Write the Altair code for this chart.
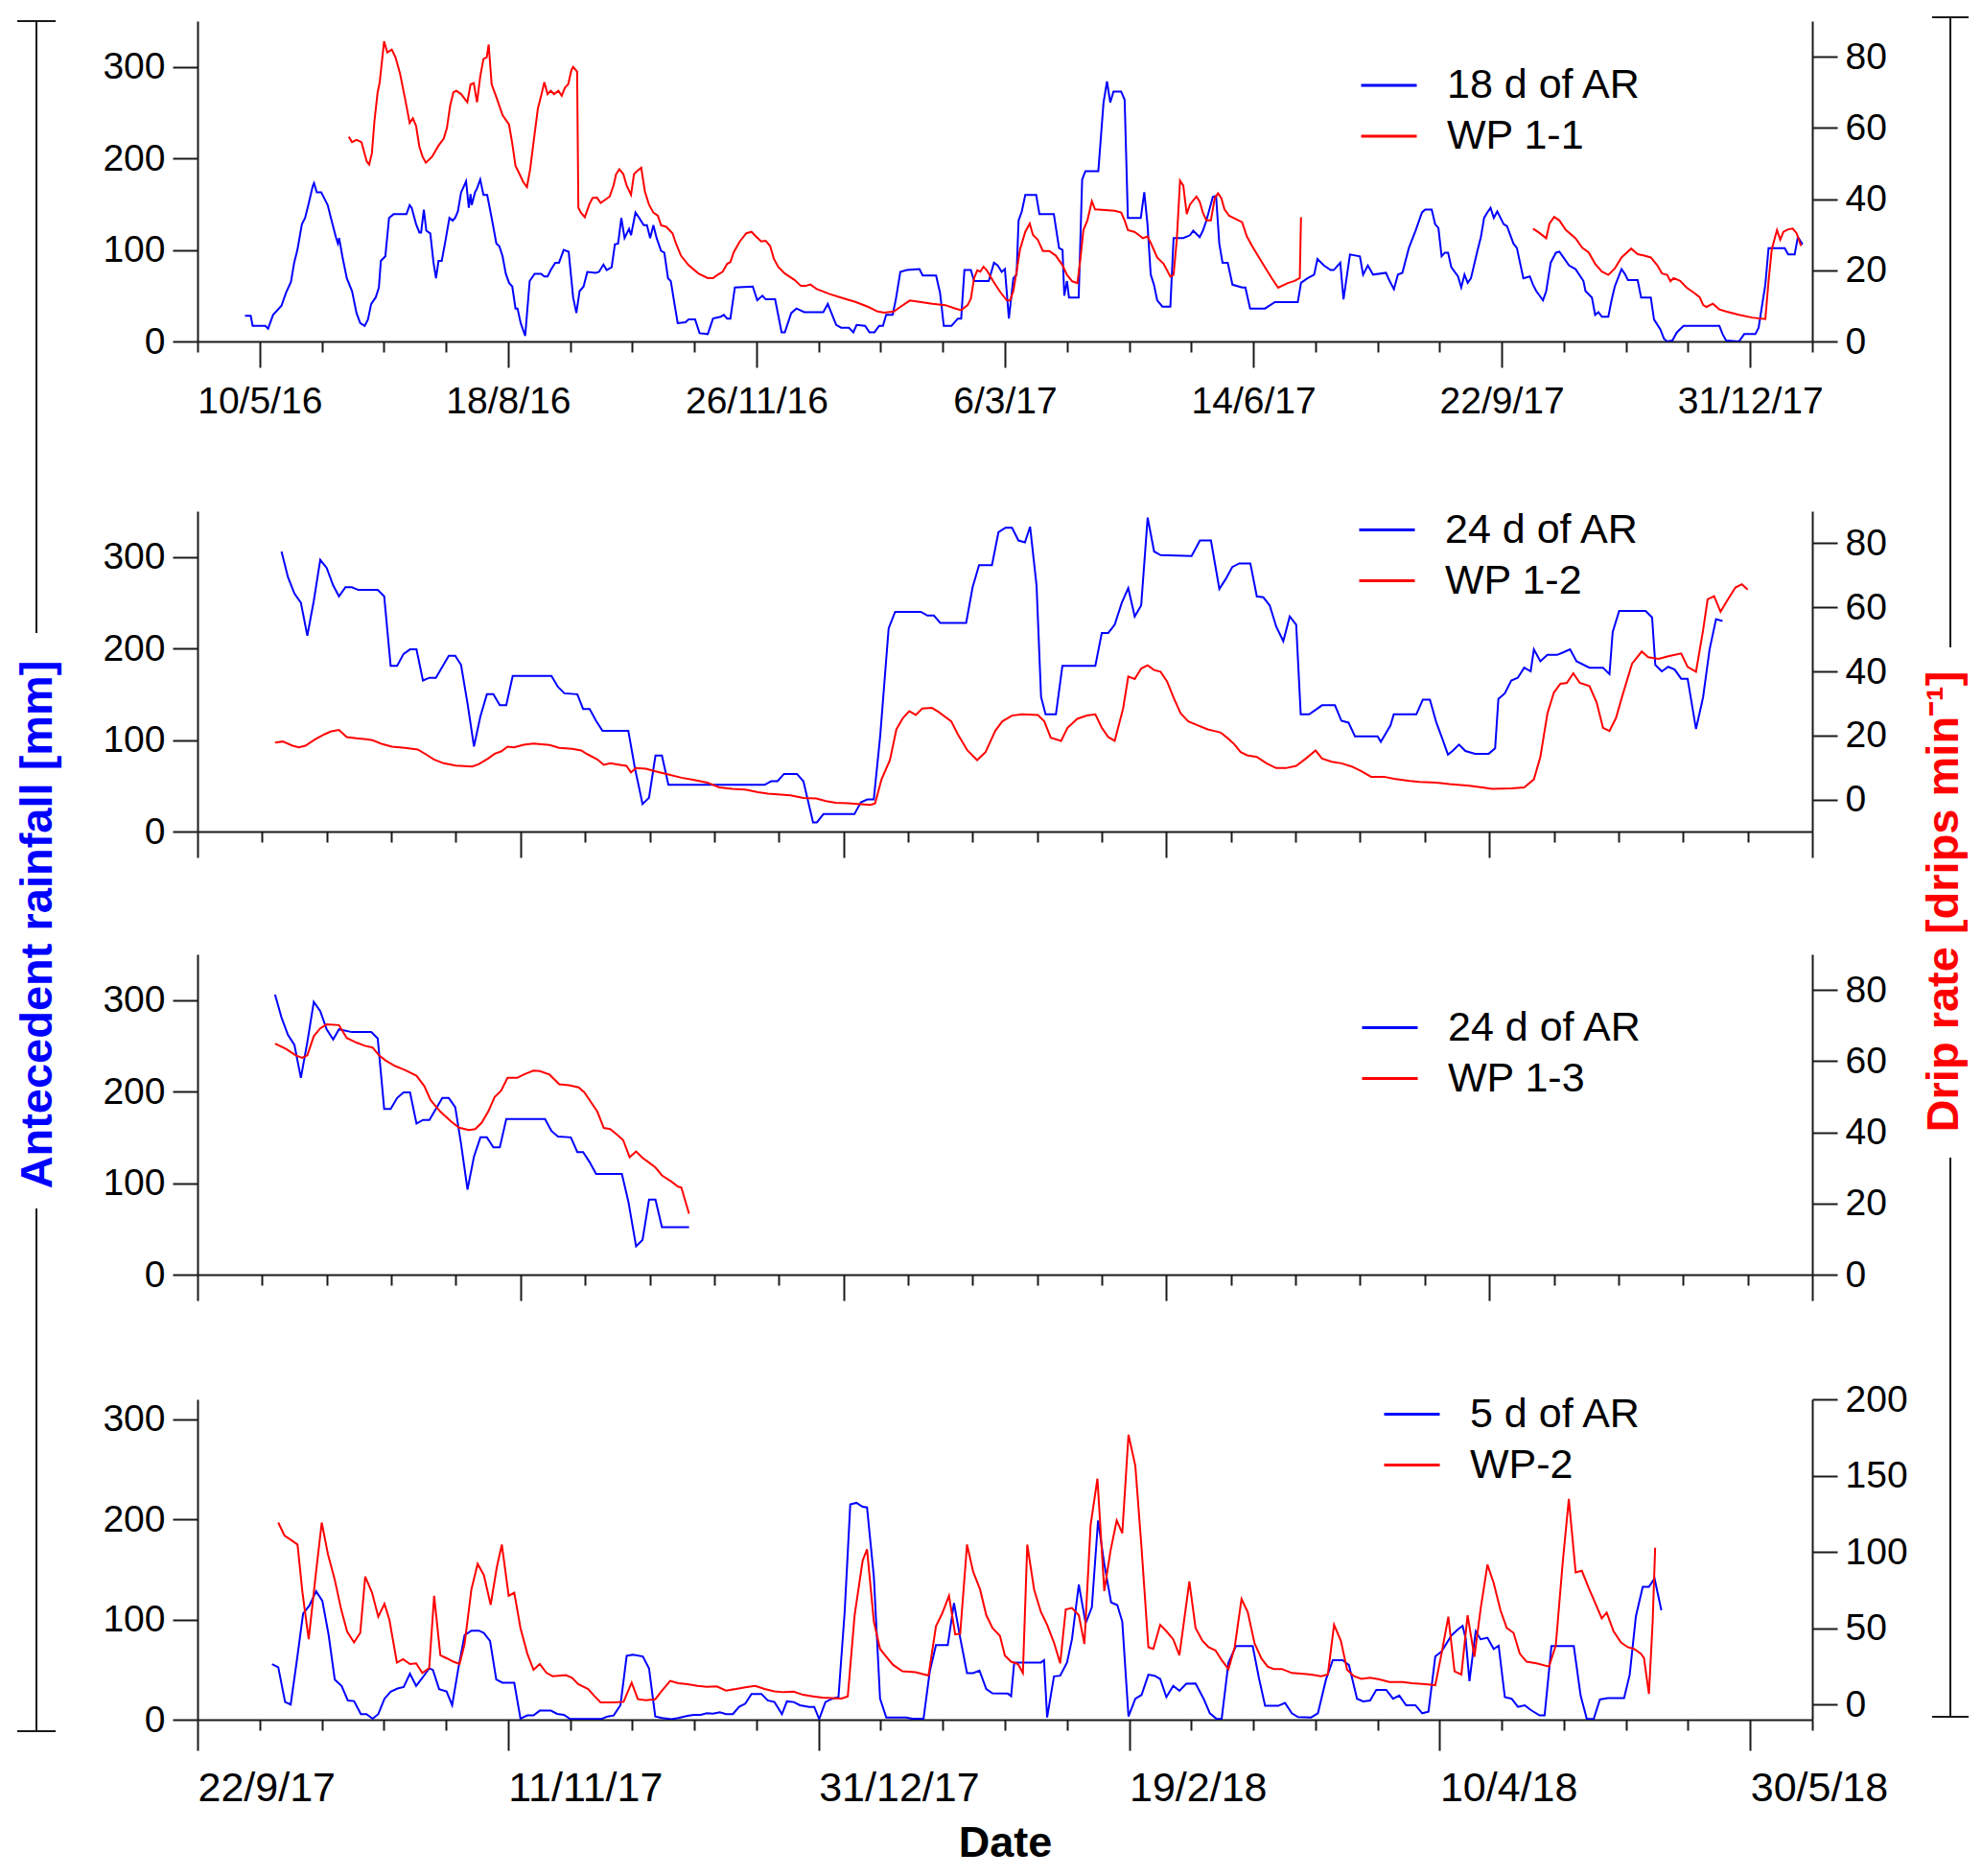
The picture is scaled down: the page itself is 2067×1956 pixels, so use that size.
import altair as alt
import pandas as pd

# ---------------------------------------------------------------- data
# x values are day offsets from a reference date, y values read off the picture
REF_TOP = "2016-05-10"   # top panel
REF_LOW = "2017-09-22"   # three lower panels

AR18 = [(-5.9,28),(-3.6,28),(-2.8,17),(2.3,17),(3.4,14),(5.4,29),(8.8,39),(10.6,53),(12.6,65),(13.9,86),
(15.2,100),(17.0,128),(18.3,135),(19.6,149),(21.4,170),(21.9,173),(23.0,163),(24.8,163),(26.1,156),(27.4,149),
(28.7,135),(30.7,114),(31.5,107),(32.0,113),(33.3,93),(35.1,69),(37.2,55),(39.0,31),(40.5,20),(42.3,17),
(43.6,24),(44.9,41),(46.7,48),(48.0,59),(48.8,88),(50.6,93),(52.1,135),(53.9,139),(59.1,139),(60.4,149),
(61.2,146),(63.0,128),(64.3,119),(65.0,119),(66.1,144),(67.1,121),(68.7,118),(70.0,86),(71.0,69),(72.0,88),
(73.3,88),(74.6,107),(76.4,135),(77.7,132),(78.7,135),(79.8,142),(81.1,163),(81.8,167),(83.1,175),(84.2,146),
(84.9,161),(85.4,149),(86.7,163),(87.5,167),(88.8,177),(90.1,160),(91.6,160),(93.4,135),(95.3,107),(96.5,104),
(97.8,93),(99.1,74),(100.4,64),(101.7,60),(103.0,36),(103.8,36),(105.1,20),(106.9,6),(108.7,66),(110.7,74),
(113.3,74),(114.6,71),(115.9,71),(117.2,78),(119.0,86),(120.5,86),(122.4,100),(124.4,98),(126.2,48),(127.5,31),
(128.8,55),(130.4,60),(131.9,76),(135.3,75),(136.6,76),(138.4,84),(139.7,78),(141.7,81),(143.0,106),(144.3,107),
(145.6,135),(146.9,113),(148.7,123),(149.5,116),(151.3,141),(152.8,135),(154.6,127),(155.9,127),(157.2,113),(158.5,127),
(159.8,113),(161.6,99),(162.9,97),(164.4,69),(165.5,66),(167.0,41),(168.3,20),(171.4,21),(172.7,24),(175.3,24),
(177.1,9),(180.4,8),(182.5,25),(185.6,27),(186.9,29),(188.2,25),(189.5,25),(191.3,59),(198.5,60),(200.3,45),
(202.4,50),(203.7,46),(207.5,46),(210.1,10),(211.4,10),(214.0,31),(216.1,36),(219.2,32),(226.9,32),(228.7,41),
(232.1,18),(234.1,15),(237.2,15),(239.0,10),(240.3,18),(243.7,17),(245.5,10),(247.5,10),(249.4,17),(250.9,17),
(252.2,29),(254.8,29),(256.1,46),(257.9,76),(260.5,78),(265.6,79),(266.9,72),(272.3,72),(273.9,53),(275.4,17),
(278.5,17),(281.1,25),(282.4,25),(283.7,78),(286.3,78),(287.6,66),(293.5,66),(295.6,86),(297.1,83),(298.7,76),
(300.0,79),(301.6,25),(303.4,69),(304.7,73),(305.5,132),(306.8,142),(308.2,160),(312.6,160),(313.9,139),(319.7,139),
(321.8,102),(323.2,100),(323.9,50),(325.0,66),(325.8,48),(329.7,48),(331.1,177),(332.4,186),(337.6,186),(339.7,261),
(341.1,284),(342.4,261),(343.7,273),(346.8,273),(348.2,264),(349.5,135),(354.7,135),(356.1,163),(357.4,128),(358.7,73),
(360.0,62),(361.3,45),(363.4,38),(366.6,38),(367.9,113),(371.8,113),(374.5,116),(375.8,121),(378.4,114),(379.7,121),
(381.1,132),(383.7,158),(385.0,159),(386.3,107),(387.6,86),(389.7,86),(391.6,62),(395.5,59),(396.8,59),(398.7,36),
(404.7,36),(408.7,43),(417.9,43),(419.2,64),(421.8,69),(424.5,73),(425.8,90),(428.4,83),(431.1,78),(432.4,78),
(435.0,86),(436.3,46),(438.9,95),(442.9,93),(444.2,73),(446.1,83),(448.2,73),(453.4,75),(454.7,67),(456.6,57),
(458.2,73),(460.0,75),(462.6,102),(465.3,121),(467.9,141),(469.2,144),(471.8,144),(473.2,128),(474.5,124),(475.8,93),
(477.1,97),(478.4,97),(479.7,81),(482.4,71),(483.7,59),(485.0,73),(486.3,64),(487.6,69),(490.3,100),(491.6,114),
(492.9,135),(494.2,141),(495.5,146),(496.8,135),(498.2,142),(500.8,128),(502.1,126),(504.7,107),(506.1,102),(508.7,69),
(511.3,71),(512.6,62),(513.9,55),(516.6,45),(517.9,55),(519.7,86),(521.8,97),(523.2,98),(527.1,83),(529.7,79),
(532.9,66),(533.7,55),(536.3,48),(537.6,29),(538.9,32),(540.3,27),(542.9,27),(544.2,45),(545.5,60),(548.2,79),
(549.5,74),(550.8,67),(554.7,67),(556.1,48),(560.0,48),(561.3,24),(563.9,13),(565.3,3),(566.6,0),(568.7,1),
(570.5,10),(573.2,17),(587.6,17),(588.9,8),(590.3,1),(595.5,0),(597.6,8),(602.1,8),(603.4,15),(606.1,62),
(607.4,102),(613.9,102),(615.3,95),(617.9,95),(619.2,114),(621.1,106)]

WP11_A = [(35.9,57.5),(37.2,56),(39.0,56.6),(41.0,56),(43.1,50.6),(44.1,49.7),(45.2,52.9),(46.2,61.8),(47.5,70),(48.3,72.6),
(50.1,84.3),(51.4,81.2),(53.2,82),(54.7,79.8),(56.5,75.3),(58.6,68),(60.4,61.4),(61.7,62.7),(63.0,60.5),(64.3,54.7),
(65.6,51.9),(66.9,50.2),(69.4,51.9),(72.0,55),(74.1,57),(75.4,60),(76.7,66.3),(78.0,70),(79.2,70.4),(81.1,69.5),
(83.6,67.2),(84.9,72.2),(86.2,72.6),(87.5,67.2),(88.8,74.4),(90.1,79.4),(91.4,79.8),(92.2,83.4),(93.4,72.2),(95.3,68.6),
(97.8,63.6),(100.4,60.9),(101.7,55.6),(103.0,49.3),(104.3,47.5),(106.1,44.8),(107.6,43.4),(108.9,48.4),(110.2,55.6),(112.0,65.4),
(113.3,69),(114.6,72.8),(115.9,69.5),(117.2,70.4),(118.5,69.5),(120.3,70.4),(121.6,69),(122.9,71.3),(124.2,72.2),(125.5,76.2),
(126.2,77.1),(127.8,75.8),(128.3,37.6),(129.3,36.2),(130.9,34.9),(132.7,38.5),(134.0,40.3),(135.8,40.4),(137.3,38.9),(139.1,39.8),
(140.9,40.7),(142.5,43.9),(143.5,47),(144.8,48.4),(146.4,47),(147.7,43.9),(149.5,41.2),(150.7,47),(152.0,47.9),(153.6,48.8),
(155.1,42.1),(156.7,38.5),(158.5,36.2),(160.3,35.3),(161.6,32.6),(163.7,32.2),(166.2,30.4),(167.5,27.7),(169.6,24.1),(172.7,21.4),
(176.6,19.1),(180.4,17.8),(182.5,17.8),(184.3,18.7),(186.4,19.6),(188.2,21.8),(189.5,22.3),(190.8,25),(193.3,28.1),(195.9,30.4),
(198.0,30.8),(199.8,29.5),(201.9,28.1),(203.7,28.3),(205.5,26.8),(207.0,23.2),(208.8,20.9),(211.4,19.1),(215.3,17.3),(217.9,15.6),
(219.7,15.6),(221.7,16),(224.3,14.7),(229.5,13.3),(234.6,12.2),(239.8,11.1),(245.0,9.7),(248.8,8.4),(251.4,8.1),(255.3,8.4),
(257.9,9.7),(261.7,11.5),(265.6,11.1),(270.8,10.6),(276.0,10.2),(279.8,9.3),(282.4,8.8),(285.0,10.2),(286.3,12),(287.6,17.8),
(288.9,20),(290.1,19.6),(291.4,21),(292.7,20),(295.3,16.9),(298.2,13.8),(300.8,11.5),(302.1,11.5),(303.4,14.2),(304.7,19.6),
(306.1,25.9),(308.2,30.8),(310.0,33.1),(311.3,29.9),(313.2,28.6),(315.3,25.4),(317.9,25.4),(320.5,24.1),(323.2,21.4),(325.0,18.7),
(327.1,16.9),(329.2,16.4),(330.3,22.7),(331.6,31.3),(333.2,34),(335.0,39.4),(336.3,37.1),(344.2,36.7),(346.8,36.2),(348.2,34),
(349.5,31.3),(352.1,30.8),(353.9,29.9),(355.5,29),(357.4,29.5),(358.7,27.7),(361.3,23.6),(363.9,21.8),(366.6,18.2),(367.9,18.7),
(369.2,28.6),(370.5,45.2),(371.8,43.8),(373.2,35.8),(374.5,38.5),(377.1,40.7),(378.4,39.3),(379.7,36.2),(381.1,34),(382.9,34),
(384.5,40.3),(385.8,41.6),(387.1,40.3),(388.4,37.1),(390.3,35.3),(392.9,34.4),(395.5,33.5),(397.4,29.5),(399.5,26.8),(403.4,22.3),
(407.4,17.8),(410.0,15.1),(413.9,16.4),(416.6,17),(418.7,17.8),(419.2,34.9)]

WP11_B = [(512.6,31.7),(515.3,30.4),(517.9,29),(519.2,33.1),(521.1,35),(523.2,34),(525.8,31.3),(529.7,29),(532.4,26.3),(535.0,25),
(537.6,21.8),(540.3,19.6),(542.9,18.7),(545.5,20.5),(548.2,23.6),(552.1,26.1),(554.7,24.5),(557.4,24.1),(560.0,23.6),(562.6,21.4),
(564.5,19.1),(566.6,18.7),(567.9,16.9),(569.2,17.8),(571.8,17),(574.5,15.1),(577.1,13.8),(579.7,12.4),(581.1,10.2),(582.4,9.7),
(585.0,10.6),(587.6,9),(590.3,8.4),(595.5,7.5),(600.8,6.7),(606.1,6.3),(607.4,16.9),(608.7,25.9),(610.8,31.3),(612.1,28.6),
(613.4,30.8),(615.3,31.5),(617.1,31.7),(618.7,30.4),(620.5,26.8)]

AR24_P2 = [(13.0,306),(14.0,278),(15.0,260),(16.0,250),(17.0,214),(18.0,252),(19.0,297),(20.0,288),(21.0,269),(21.9,257),
(22.9,267),(23.9,267),(24.9,264),(27.9,264),(28.9,257),(29.9,181),(30.9,181),(31.9,194),(32.9,199),(33.9,199),
(34.9,165),(35.9,168),(36.9,168),(37.9,180),(38.9,192),(39.9,192),(40.8,182),(41.8,140),(42.8,93),(43.8,126),
(44.8,150),(45.8,150),(46.8,138),(47.8,138),(48.8,170),(54.8,170),(55.8,158),(56.8,151),(58.8,150),(59.7,134),
(60.7,134),(61.7,121),(62.7,110),(66.7,110),(67.7,70),(68.9,30),(69.9,37),(70.9,83),(71.9,83),(72.9,51),
(87.8,51),(88.8,55),(89.8,55),(90.8,63),(92.8,63),(93.8,55),(95.3,10),(95.9,10),(96.9,19),(101.7,19),
(102.7,32),(103.7,35),(104.7,35),(105.7,105),(107.0,222),(108.0,240),(112.0,240),(113.0,236),(114.0,236),(115.0,228),
(119.0,228),(120.0,267),(121.0,291),(123.0,291),(124.0,327),(125.1,332),(126.1,332),(127.1,318),(128.1,316),(128.9,333),
(129.9,269),(130.6,147),(131.3,128),(132.9,128),(133.9,181),(139.0,181),(140.0,217),(141.0,217),(142.0,226),(143.1,250),
(144.1,266),(145.1,235),(146.1,247),(147.1,343),(148.1,306),(149.1,302),(153.9,301),(155.2,318),(156.9,318),(158.2,265),
(159.2,276),(160.2,289),(161.3,293),(163.0,293),(164.0,257),(165.0,256),(166.0,247),(167.0,224),(168.1,208),(169.1,235),
(170.1,226),(170.8,128),(172.1,128),(173.1,133),(174.1,138),(176.1,138),(177.1,121),(178.2,119),(179.2,104),(182.7,104),
(183.2,98),(184.7,116),(185.2,128),(188.7,128),(189.7,144),(190.8,144),(191.8,119),(192.8,100),(193.6,84),(194.3,88),
(195.3,95),(196.3,88),(197.8,85),(199.9,85),(200.9,91),(201.4,145),(202.4,151),(203.4,165),(204.4,168),(205.4,179),
(206.4,175),(206.9,199),(207.9,186),(209.0,193),(210.5,193),(211.5,196),(212.5,199),(213.5,186),(215.5,179),(217.6,179),
(218.6,172),(219.1,218),(220.1,241),(224.2,241),(225.2,234),(225.7,182),(226.7,175),(227.7,180),(228.7,177),(229.7,167),
(230.7,167),(232.0,112),(233.1,147),(234.1,199),(235.1,232),(236.1,230)]

WP12 = [(12.0,17.8),(13.2,18.1),(14.7,16.8),(15.7,16.3),(16.7,16.8),(18.2,18.8),(19.7,20.4),(20.6,21.2),(21.9,21.7),(23.1,19.5),
(24.6,19.1),(26.1,18.8),(27.1,18.5),(28.6,17.3),(30.1,16.5),(32.1,16.1),(34.1,15.6),(35.6,13.8),(36.6,12.5),(38.1,11.3),
(40.0,10.6),(42.5,10.3),(43.5,11),(45.0,12.8),(46.0,14.3),(47.0,15),(48.0,16.5),(49.0,16.3),(50.5,17.1),(52.0,17.5),
(54.5,17),(56.0,16.1),(58.0,15.8),(59.4,15.3),(60.4,14.1),(61.9,12.5),(62.9,10.8),(63.9,11.3),(65.4,10.8),(66.4,10.5),
(67.1,8.5),(67.9,9.8),(69.4,9.6),(70.9,8.8),(72.9,7.8),(74.9,6.8),(76.9,6.1),(78.9,5.3),(80.8,3.8),(82.8,3.3),
(84.8,3.1),(86.8,2.3),(88.3,1.8),(89.8,1.6),(91.8,1.3),(93.8,0.5),(95.8,0.3),(97.3,-0.5),(98.8,-1),(100.7,-1.2),
(102.7,-1.5),(104.2,-1.7),(104.9,-1.2),(105.9,6.3),(107.2,12.3),(108.2,21.9),(109.2,25.4),(110.2,27.6),(111.2,26.4),(112.2,28.4),
(113.7,28.6),(114.7,27.4),(116.7,24.4),(117.7,20.4),(119.2,15.3),(120.7,12.3),(122.0,14.8),(123.5,21.4),(124.6,24.4),(126.1,26.2),
(127.6,26.6),(130.1,26.4),(131.1,24.4),(132.1,19.3),(133.7,18.3),(134.7,22.4),(136.2,25.2),(137.7,26.2),(139.0,26.6),(140.0,22.4),
(141.0,19.5),(142.0,18.3),(143.3,28.4),(144.1,38.4),(145.1,37.6),(146.1,40.9),(147.1,41.9),(148.1,40.4),(149.1,39.9),(150.1,36.9),
(151.2,31.4),(152.2,26.9),(153.4,24.4),(154.9,23.1),(156.4,21.9),(157.4,21.4),(158.4,20.9),(159.4,19.3),(160.5,17.3),(161.5,14.8),
(162.5,13.8),(164.0,13.3),(165.5,11.3),(167.0,9.8),(168.5,9.8),(170.1,10.5),(171.6,12.8),(173.1,15.3),(174.1,12.8),(175.6,11.8),
(177.1,11.3),(178.7,10.3),(180.2,8.8),(181.7,7.1),(183.7,7.1),(185.2,6.5),(187.7,5.8),(189.2,5.5),(191.8,5.3),(193.8,4.8),
(196.9,4.3),(198.9,3.8),(200.4,3.3),(203.4,3.5),(205.4,3.8),(206.9,6.3),(207.9,13.3),(209.0,26.9),(210.0,33.4),(211.0,36.1),
(212.0,36.4),(213.0,39.4),(214.0,36.4),(215.5,35.4),(216.6,30.4),(217.6,22.4),(218.6,21.4),(219.6,25.4),(220.6,32.4),(222.1,42.4),
(223.6,46.2),(224.6,44.4),(226.2,43.9),(227.7,44.7),(229.7,45.6),(230.7,41.4),(232.0,39.9),(233.1,52.9),(233.8,62.5),(234.8,63.5),
(235.8,58.6),(236.8,62),(238.1,66.2),(239.1,67.2),(240.0,65.5)]

AR24_P3 = [(12.0,306),(13.0,281),(14.0,262),(15.0,251),(16.0,215),(17.0,254),(18.0,298),(19.0,288),(20.0,268),(21.0,257),
(21.9,268),(23.9,265),(26.9,265),(27.9,258),(28.9,181),(29.9,181),(30.9,193),(31.9,199),(32.9,199),(33.9,165),
(34.9,169),(35.9,169),(36.9,181),(37.9,193),(38.9,193),(39.9,183),(40.8,143),(41.8,93),(42.8,129),(43.8,150),
(44.8,150),(45.8,139),(46.8,139),(47.8,170),(53.8,170),(54.8,157),(55.8,151),(57.8,150),(58.8,134),(59.7,134),
(60.7,123),(61.7,110),(65.7,110),(66.7,80),(67.9,31),(68.9,38),(69.9,82),(70.9,82),(71.9,52),(76.1,52)]

WP13 = [(12.0,64.9),(13.7,63.4),(15.2,61.6),(16.2,60.9),(17.0,61.6),(18.0,67),(19.0,69.2),(20.0,70.3),(21.9,70.1),(23.1,66.5),
(24.6,65.2),(25.9,64.3),(27.1,63.8),(28.1,61.6),(29.1,60.2),(30.6,58.6),(32.1,57.5),(33.9,55.9),(35.1,53),(36.1,49),
(37.6,45.8),(39.2,43.1),(40.5,41.3),(42.0,40.6),(43.0,40.9),(44.0,42.7),(45.0,45.8),(46.0,49.9),(47.0,51.7),(48.0,55.3),
(49.5,55.3),(50.5,56.2),(52.0,57.3),(53.0,57.2),(54.5,56.2),(56.0,53.5),(57.5,53.2),(59.0,52.6),(59.9,51.2),(60.9,48.5),
(61.9,45.8),(62.9,41.2),(63.9,40.9),(64.9,39.4),(65.9,37.8),(66.9,33),(67.9,34.6),(68.9,32.8),(69.9,31.5),(70.9,30.1),
(71.9,27.9),(73.4,26.1),(74.4,24.7),(74.9,24.5),(76.1,17.1)]

AR5 = [(12.0,55.5),(13.0,52.3),(14.1,17.6),(15.0,15.1),(16.0,59.4),(17.0,105.9),(18.0,113.9),(19.1,128.3),(20.1,118.7),(21.1,85),
(22.1,40.1),(23.2,33.7),(24.2,19.2),(25.2,18.6),(26.3,5.5),(27.2,5.5),(28.2,1),(29.1,5.5),(30.1,20.9),(31.1,27.9),
(32.2,31.1),(33.2,32.7),(34.2,45.9),(35.2,33.7),(36.2,41.7),(37.3,51.3),(37.9,49.7),(38.9,30.5),(40.1,28.2),(41.0,14.4),
(42.0,51.3),(43.0,84.4),(44.1,88.9),(45.3,88.9),(46.1,86.6),(47.1,78.6),(48.1,40.1),(49.1,36.9),(51.0,36.9),(52.0,1),
(53.1,4.2),(54.1,4.2),(55.1,9),(56.9,9),(57.9,5.8),(59.0,4.8),(60.0,0.6),(65.0,0.6),(66.0,3.2),(67.0,4.2),
(68.1,14.4),(69.1,63.8),(70.1,64.8),(71.7,63.2),(72.7,51.3),(73.7,3.2),(74.8,1.6),(76.3,0.6),(77.4,1.6),(78.9,3.8),
(79.9,4.8),(81.0,4.8),(82.0,6.4),(83.0,6.1),(84.1,7.4),(85.1,5.5),(86.2,5.5),(87.2,12.8),(88.2,16),(89.2,25.7),
(90.8,25.7),(91.8,19.2),(92.9,17.6),(94.1,5.5),(94.9,18.3),(96.0,17.6),(97.0,14.4),(98.5,12.8),(99.3,12.8),(100.1,0.6),
(101.1,17.6),(102.2,20.9),(103.2,22.5),(104.2,107.5),(105.1,215),(106.1,216.6),(107.1,212.7),(107.8,212),(108.9,142.8),(109.9,20.9),
(110.9,2.2),(114.1,2.2),(115.1,1),(116.9,1),(117.9,48.1),(118.9,74.4),(120.8,74.4),(121.8,116.5),(122.8,81.8),(123.9,46.5),
(124.9,46.5),(125.9,49.1),(127.0,30.5),(128.0,26.3),(130.5,26),(131.0,23.4),(131.5,57.1),(135.8,57.1),(136.3,59.4),(136.8,2.2),
(137.9,43.3),(138.9,43.9),(140.0,57.1),(140.8,80.3),(141.9,134.9),(143.0,96.2),(144.0,112.3),(145.0,199),(146.0,155.6),(147.1,117.1),
(148.1,114.5),(148.9,97.9),(149.9,3.2),(151.0,20.9),(152.0,24.7),(153.1,44.9),(154.1,43.9),(155.0,40.7),(156.0,22.5),(157.1,33.7),
(158.1,28.9),(159.2,35.9),(160.7,36.2),(162.0,20.9),(163.0,6.4),(164.1,0.6),(164.9,0.6),(166.0,57.1),(167.2,73.5),(169.9,73.5),
(170.9,41.7),(171.9,13.8),(174.0,13.8),(175.1,16.7),(176.2,6.4),(177.2,2.6),(179.3,2.2),(180.4,6.4),(181.7,40.1),(182.8,59.4),
(184.4,59.4),(185.4,54.5),(186.7,20.9),(187.7,18.3),(188.8,19.2),(189.8,29.8),(191.4,29.8),(192.5,20.9),(193.5,24.1),(194.6,14.4),
(196.1,14.4),(197.2,6.4),(198.2,8),(199.3,63.2),(200.3,68),(201.9,84.1),(203.0,90.5),(203.7,93.7),(204.2,80.9),(204.8,38.5),
(205.8,88.3),(206.6,80.3),(207.7,81.8),(208.7,70.6),(209.5,73.8),(210.5,22.5),(211.6,20.9),(212.6,12.8),(213.7,14.4),(214.7,9.6),
(216.1,4.2),(216.9,4.2),(218.0,73.5),(221.6,73.5),(222.7,24.1),(223.7,0.6),(224.8,0.6),(225.8,20.2),(227.1,21.5),(229.7,21.5),
(230.6,44.9),(231.6,103.3),(232.7,132.7),(233.7,132.7),(234.6,141.2),(235.7,109.2)]

WP2 = [(13.0,119.2),(14.0,110.7),(15.0,108),(16.1,104.8),(16.9,73.3),(17.9,42.7),(19.0,83.8),(20.0,119.2),(21.0,98.5),(22.1,81.7),
(23.1,62.7),(24.1,47.6),(25.2,40.6),(26.2,46.9),(27.0,83.8),(28.1,73.3),(29.1,57.5),(30.1,65.9),(30.9,55.4),(32.1,27.4),
(33.1,29.7),(34.2,26.5),(35.2,26.9),(36.2,20.6),(37.3,23.8),(38.1,71.2),(39.1,32.2),(40.2,30.1),(41.2,28),(42.2,26.5),
(43.0,39.6),(44.1,75.4),(45.1,92.2),(46.1,84.8),(47.2,65.3),(48.2,90.1),(49.0,104.8),(50.1,71.2),(51.0,73.3),(52.0,50.1),
(53.1,33.3),(54.1,22.7),(55.1,26.5),(56.2,20.6),(57.2,18.5),(59.3,19.2),(60.3,17.5),(61.3,13.3),(62.9,10.1),(63.9,5.5),
(64.9,1.3),(67.0,1.3),(68.6,1.7),(69.9,14.3),(70.9,3.4),(72.2,2.7),(73.7,3.4),(74.8,9.1),(76.1,15.4),(77.4,13.9),
(78.9,13.3),(80.5,12.2),(82.0,11.6),(83.6,11.8),(85.1,9.1),(86.7,10.1),(88.2,11.2),(89.8,12.2),(91.3,10.1),(92.9,8.6),
(94.4,8),(96.0,8.4),(97.5,6.3),(99.1,5.3),(100.6,4.4),(102.2,4.2),(103.7,3.8),(104.7,5.3),(105.8,58.5),(107.1,94.3),
(107.8,101.7),(108.9,54.3),(109.9,36.4),(110.9,31.2),(112.0,25.9),(113.5,21.7),(115.6,21.1),(117.7,18.9),(118.9,51.2),(119.9,59.6),
(121.0,71.2),(122.0,45.9),(122.8,46.3),(123.9,104.8),(124.9,86.9),(126.0,75.4),(127.0,58.5),(128.0,50.1),(129.2,45),(130.0,32),
(131.0,28),(132.1,26.5),(132.9,20.6),(133.6,104.8),(134.7,75.4),(135.8,60.6),(136.8,52.2),(137.9,40.6),(138.9,26.9),(139.8,62.3),
(140.8,63.2),(141.9,58.5),(142.8,39.6),(143.8,117.5),(144.9,148),(146.0,74.3),(147.0,100.6),(148.0,120.6),(148.9,112.2),(149.9,176.8),
(151.0,156.4),(152.0,102.7),(153.1,37.5),(153.9,36.4),(155.0,52.2),(156.0,48),(157.1,42.7),(158.1,32.2),(159.7,80.6),(160.7,50.1),
(161.8,41.7),(162.8,37.5),(163.9,35.4),(164.9,29.1),(166.0,23.2),(167.0,37.5),(168.1,69.1),(169.1,60.6),(170.2,40),(171.3,30.1),
(172.3,24.8),(173.3,23.2),(174.6,23.2),(176.2,20.6),(177.7,20.2),(179.3,19.6),(180.9,18.5),(182.0,19.6),(183.0,52.2),(184.1,41.7),
(185.1,22.7),(186.2,18.5),(187.4,16.8),(188.8,17.5),(190.3,16.4),(191.9,14.7),(194.0,14.7),(195.6,13.9),(197.7,13.3),(199.3,12.6),
(200.3,33.3),(201.4,57.5),(202.4,21.7),(203.5,19.6),(204.5,58.5),(205.6,31.2),(206.6,62.7),(207.7,91.6),(208.7,79.6),(209.8,61.7),
(210.8,50.1),(211.9,46.9),(212.9,33.3),(214.0,28),(215.6,26.9),(217.6,24.8),(218.7,38.5),(219.8,92.2),(220.8,134.7),(221.9,86.5),
(222.9,87.6),(224.0,76.4),(225.0,66.9),(226.1,56.4),(226.9,60.2),(228.0,48),(229.2,40.6),(230.3,37.5),(231.3,36.4),(232.4,33.3),
(232.9,30.5),(233.7,6.9),(234.3,54.3),(234.7,102.7)]

SERIES_NAMES = [("18 d of AR", "WP 1-1"), ("24 d of AR", "WP 1-2"),
                ("24 d of AR", "WP 1-3"), ("5 d of AR", "WP-2")]
TOP_TICK_LABELS = ["10/5/16", "18/8/16", "26/11/16", "6/3/17", "14/6/17", "22/9/17", "31/12/17"]
LOW_TICK_LABELS = ["22/9/17", "11/11/17", "31/12/17", "19/2/18", "10/4/18", "30/5/18"]
LEFT_TICKS = [0, 100, 200, 300]
RIGHT_TICKS_A = [0, 20, 40, 60, 80]
RIGHT_TICKS_B = [0, 50, 100, 150, 200]
Y_TITLE_LEFT = "Antecedent rainfall [mm]"
Y_TITLE_RIGHT = "Drip rate [drips min\u207b\u00b9]"
X_TITLE = "Date"

# ---------------------------------------------------------------- helpers
DAY = 86400000
FONT = "Liberation Sans"
BLUE, RED, INK = "#0000ff", "#ff0000", "#1a1a1a"
W, H = 1684, 334


def ms(iso):
    return int(pd.Timestamp(iso, tz="UTC").value // 10**6)


def label_ms(lbl):
    d, m, y = lbl.split("/")
    return ms(f"20{y}-{int(m):02d}-{int(d):02d}")


def frame(points, ref, name, seg=0):
    r = ms(ref)
    return pd.DataFrame({"t": [r + d * DAY for d, _ in points],
                         "v": [v for _, v in points],
                         "series": name, "seg": seg})


def x_axis(major, all_ticks, major_len, show, size=39, pad=16, align="center", title=None):
    test = f"indexof({major}, time(datum.value)) >= 0"
    kw = dict(values=all_ticks,
              tickSize={"condition": {"test": test, "value": major_len}, "value": 11},
              grid=False, domainColor=INK, tickColor=INK, domainWidth=2, tickWidth=2,
              labelFlush=False, labelOverlap=False)
    if show:
        kw.update(labelExpr=f"{test} ? utcFormat(datum.value, '%-d/%-m/%y') : ''",
                  labelFontSize=size, labelPadding=pad, labelAlign=align,
                  labelFont=FONT, labelColor="black")
    else:
        kw.update(labels=False)
    if title:
        kw.update(title=title, titleFont=FONT, titleFontSize=45, titleFontWeight="bold",
                  titleColor="black", titleBaseline="alphabetic", titleY=142)
    else:
        kw.update(title=None)
    return alt.Axis(**kw)


def y_axis(orient, ticks):
    return alt.Axis(orient=orient, values=ticks, tickSize=26, labelFontSize=39,
                    labelPadding=8, labelFont=FONT, labelColor="black", title=None,
                    grid=False, labelFlush=False, domainColor=INK, tickColor=INK,
                    domainWidth=2, tickWidth=2)


def panel(ar_df, wp_df, names, xdom, xax, yl_dom, yr_dom, yr_ticks, leg_x, leg_y, extra=()):
    legend = alt.Legend(orient="none", legendX=leg_x, legendY=leg_y, title=None,
                        symbolType="stroke", symbolSize=3364, symbolStrokeWidth=3,
                        labelFontSize=43, labelFont=FONT, labelColor="black",
                        labelOffset=30, rowPadding=-2, padding=0, offset=0,
                        symbolOffset=0, labelLimit=600, direction="vertical")
    color = alt.Color("series:N", scale=alt.Scale(domain=list(names), range=[BLUE, RED]),
                      legend=legend)
    x = alt.X("t:T", scale=alt.Scale(type="utc", domain=xdom, nice=False), axis=xax)
    blue = alt.Chart(ar_df).mark_line(strokeWidth=2, clip=True).encode(
        x=x,
        y=alt.Y("v:Q", scale=alt.Scale(domain=yl_dom, nice=False, zero=False),
                axis=y_axis("left", LEFT_TICKS)),
        color=color, detail="seg:N")
    red = alt.Chart(wp_df).mark_line(strokeWidth=2, clip=True).encode(
        x=x,
        y=alt.Y("v:Q", scale=alt.Scale(domain=yr_dom, nice=False, zero=False),
                axis=y_axis("right", yr_ticks)),
        color=color, detail="seg:N")
    return alt.layer(blue, red, *extra).resolve_scale(y="independent").properties(width=W, height=H)


one = pd.DataFrame({"k": [0]})


def rule(x, y, x2=None, y2=None):
    enc = dict(x=alt.value(x), y=alt.value(y))
    if x2 is not None:
        enc["x2"] = alt.value(x2)
    if y2 is not None:
        enc["y2"] = alt.value(y2)
    return alt.Chart(one).mark_rule(color=INK, strokeWidth=2).encode(**enc)


def vtitle(txt, x, y, col):
    return alt.Chart(one).mark_text(text=txt, angle=270, font=FONT, fontSize=47,
                                    fontWeight="bold", color=col, align="center",
                                    baseline="middle").encode(x=alt.value(x), y=alt.value(y))


def spacer(h):
    return alt.Chart(one).mark_rule(opacity=0).encode(
        x=alt.value(0), y=alt.value(0), y2=alt.value(1)).properties(width=W, height=h)


# ---------------------------------------------------------------- x ticks
top_major = [label_ms(s) for s in TOP_TICK_LABELS]
top_x0, top_x1 = top_major[0] - 25 * DAY, top_major[-1] + 25 * DAY
top_all = list(range(top_x0, top_x1 + 1, 25 * DAY))

low_major = [label_ms(s) for s in LOW_TICK_LABELS]
low_x0 = low_major[0]
low_x1a = low_major[-1]
low_x1b = low_major[-1] + 10 * DAY
low_all_a = list(range(low_x0, low_x1a + 1, 10 * DAY))
low_all_b = list(range(low_x0, low_x1b + 1, 10 * DAY))

# ---------------------------------------------------------------- panels
deco = [
    rule(-168, 0, y2=638), rule(-168, 1238, y2=1783),
    rule(-188, 0, x2=-148), rule(-188, 1783, x2=-148),
    vtitle(Y_TITLE_LEFT, -166, 942, BLUE),
    rule(1828, -4, y2=653), rule(1828, 1185, y2=1768),
    rule(1809, -4, x2=1847), rule(1809, 1768, x2=1847),
    vtitle(Y_TITLE_RIGHT, 1822, 918, RED),
]

n1, n2, n3, n4 = SERIES_NAMES
p1 = panel(frame(AR18, REF_TOP, n1[0]),
           pd.concat([frame(WP11_A, REF_TOP, n1[1], 0), frame(WP11_B, REF_TOP, n1[1], 1)]),
           n1, [top_x0, top_x1],
           x_axis(top_major, top_all, 27, True, size=39, pad=16, align="center"),
           [0, 350], [0, 90], RIGHT_TICKS_A, 1212, 36.5, extra=deco)
p2 = panel(frame(AR24_P2, REF_LOW, n2[0]), frame(WP12, REF_LOW, n2[1]),
           n2, [low_x0, low_x1a], x_axis(low_major, low_all_a, 27, False),
           [0, 350], [-10, 90], RIGHT_TICKS_A, 1210, -11)
p3 = panel(frame(AR24_P3, REF_LOW, n3[0]), frame(WP13, REF_LOW, n3[1]),
           n3, [low_x0, low_x1a], x_axis(low_major, low_all_a, 27, False),
           [0, 350], [0, 90], RIGHT_TICKS_A, 1213, 46)
p4 = panel(frame(AR5, REF_LOW, n4[0]), frame(WP2, REF_LOW, n4[1]),
           n4, [low_x0, low_x1b],
           x_axis(low_major, low_all_b, 32, True, size=43, pad=18, align="left", title=X_TITLE),
           [0, 320], [-10, 200], RIGHT_TICKS_B, 1236, -15)

chart = alt.vconcat(p1, spacer(177), p2, spacer(128), p3, spacer(130), p4,
                    spacing=0, bounds="flush").resolve_scale(
    x="independent", color="independent"
).properties(
    padding={"left": 8, "top": 9, "right": 5, "bottom": 5}
).configure_view(stroke=None)

chart.save("out.html", embed_options={"renderer": "svg", "actions": False})
